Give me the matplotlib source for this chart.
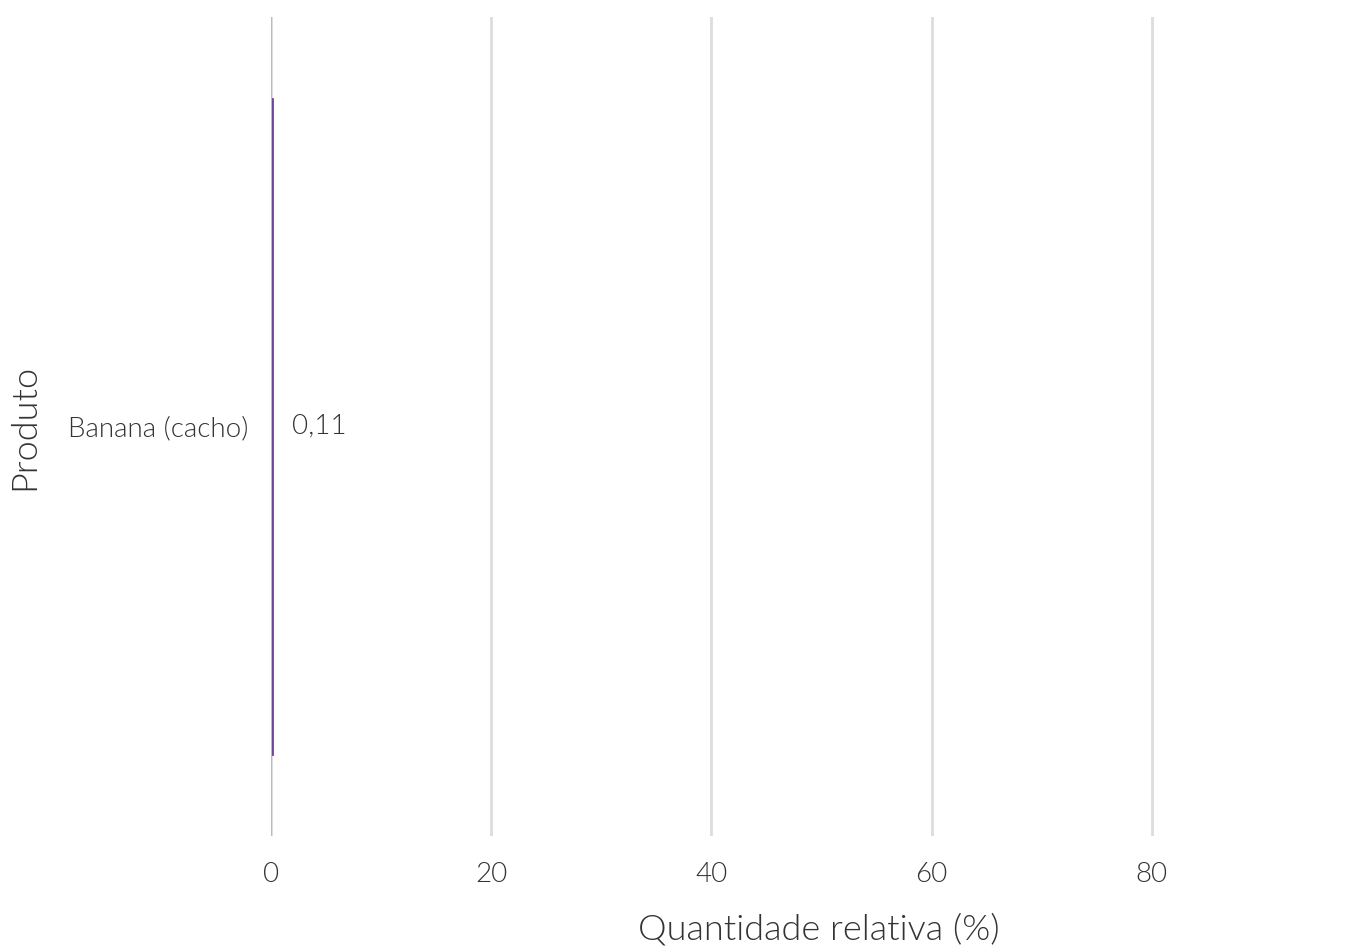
import matplotlib
matplotlib.use("Agg")
import matplotlib.pyplot as plt

produtos = ["Banana (cacho)"]
quantidade = [0.11]
rotulos = ["0,11"]
xticks = [0, 20, 40, 60, 80]

plt.rcParams['font.family'] = ['Lato', 'DejaVu Sans']
TXT = "#333333"

fig = plt.figure(figsize=(13.66, 9.46), dpi=100)
ax = fig.add_axes([271 / 1366, 110 / 946, 1 - 271 / 1366, (836 - 17) / 946])

ax.barh(produtos, quantidade, height=0.8, color="#6e3f9e",
        edgecolor="#6e3f9e", linewidth=2, zorder=3)
for p, v, r in zip(produtos, quantidade, rotulos):
    ax.annotate(r, (v, p), xytext=(20, 0), textcoords="offset pixels",
                va="center", ha="left", fontsize=20, fontweight=300, color=TXT)

ax.set_xlim(0, 99.45)
ax.set_ylim(-0.5, 0.5)
ax.set_xticks(xticks)
ax.set_xticklabels([str(t) for t in xticks], fontsize=20, fontweight=300, color=TXT)
ax.tick_params(axis="x", length=0, pad=18.5)
ax.tick_params(axis="y", length=0, pad=16, labelsize=20, labelcolor=TXT)
for lab in ax.get_yticklabels():
    lab.set_fontweight(300)

ax.grid(axis="x", color="#dddddd", linewidth=2, zorder=0)
ax.axvline(0, color="#bbbbbb", linewidth=1.5, zorder=4)
for s in ax.spines.values():
    s.set_visible(False)

ax.set_xlabel("Quantidade relativa (%)", fontsize=26, fontweight=300, color=TXT, labelpad=19)
ax.set_ylabel("Produto", fontsize=26, fontweight=300, color=TXT, labelpad=20)

fig.savefig("out.png", dpi=100, facecolor="white")
